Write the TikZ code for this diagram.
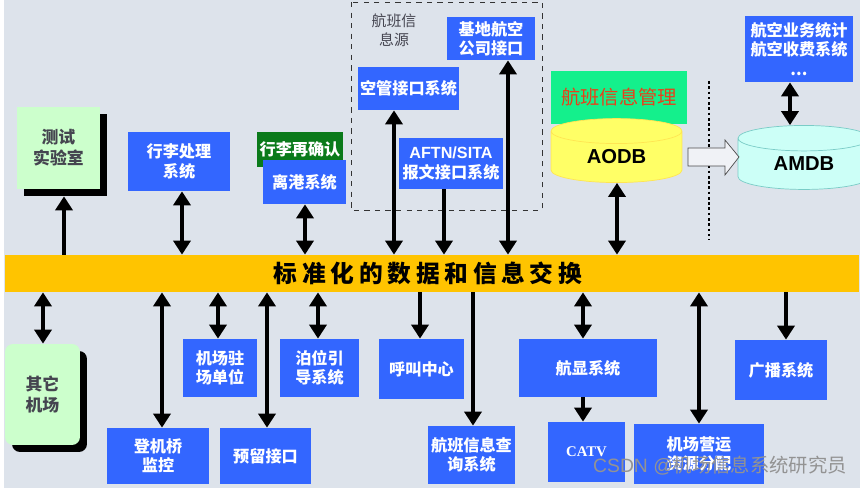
\documentclass[tikz,border=0pt]{standalone}
\usepackage{fontspec}
\setmainfont{Noto Sans CJK SC}
\newfontfamily\latinsans{Liberation Sans}
\newfontfamily\latinserif{Liberation Serif}
\usetikzlibrary{arrows.meta,shapes.geometric,shadows}
\definecolor{fondoGris}{HTML}{DDE3EB}
\definecolor{azulSis}{HTML}{3366FF}
\definecolor{bandaAmar}{HTML}{FFC400}
\definecolor{verdeOsc}{HTML}{0A7A1A}
\definecolor{verdeVivo}{HTML}{14F08C}
\definecolor{rojoTxt}{HTML}{E8401A}
\definecolor{amarAODB}{HTML}{FFFF66}
\definecolor{cianAMDB}{HTML}{CCFFF7}
\definecolor{verdeClaro}{HTML}{CCFFCC}
\definecolor{grisT}{HTML}{454550}

\begin{document}
\begin{tikzpicture}[x=0.02cm,y=-0.02cm,every node/.style={align=center},
    sysbox/.style={fill=azulSis,text=white,inner sep=0pt,
      font=\fontsize{9.2}{11}\selectfont\bfseries},
    sitebox/.style={fill=verdeClaro,text=grisT,inner sep=0pt,
      font=\fontsize{9.6}{12}\selectfont\bfseries,
      drop shadow={shadow xshift=0.14cm,shadow yshift=-0.14cm,fill=black,opacity=1}},
    dbbox/.style={cylinder,shape border rotate=90,aspect=0.42,inner sep=0pt,
      font=\latinsans\fontsize{11.5}{13}\selectfont\bfseries},
    dbl/.style={line width=2.2pt,{Triangle[length=0.28cm,width=0.34cm]}-{Triangle[length=0.28cm,width=0.34cm]}},
    sgl/.style={line width=2.2pt,-{Triangle[length=0.28cm,width=0.34cm]}}]
    \useasboundingbox (0,0) rectangle (860,492);
    % fondo
    \fill[fondoGris] (4,0) rectangle (860,488);
    % banda central
    \node[fill=bandaAmar,minimum width=17.1cm,minimum height=0.74cm,inner sep=0pt,
      font=\fontsize{13.5}{15}\selectfont\bfseries\addfontfeature{LetterSpace=20}]
      (band) at (432,273.5) {标准化的数据和信息交换\hspace*{0.16cm}};
    % parte superior
    \node[sitebox,minimum width=1.66cm,minimum height=1.64cm] (lab) at (58.5,148) {测试\\实验室};
    \node[sysbox,minimum width=2.04cm,minimum height=1.18cm] (bag) at (179,161.5) {行李处理\\系统};
    \node[sysbox,fill=verdeOsc,minimum width=1.72cm,minimum height=0.7cm] (recheck) at (300,149.5) {行李再确认};
    \node[sysbox,minimum width=1.66cm,minimum height=0.88cm] (depart) at (304.5,182) {离港系统};
    \draw[dashed,black!80] (351,2) rectangle (542,210);
    \node[text=grisT,font=\fontsize{8.5}{11}\selectfont] (src) at (394,30) {航班信\\息源};
    \node[sysbox,minimum width=1.76cm,minimum height=0.86cm] (airline) at (491,38.5) {基地航空\\公司接口};
    \node[sysbox,minimum width=2.02cm,minimum height=0.86cm] (atc) at (408.5,88.5) {空管接口系统};
    \node[sysbox,minimum width=2.08cm,minimum height=1.02cm] (aftn) at (451,163.5) {{\latinsans AFTN/SITA}\\报文接口系统};
    \node[fill=verdeVivo,text=rojoTxt,minimum width=2.72cm,minimum height=1.06cm,inner sep=0pt,
      font=\fontsize{11}{13}\selectfont] (fim) at (619,97.5) {航班信息管理};
    \node[dbbox,fill=amarAODB,draw=amarAODB!80!orange,minimum width=2.62cm,minimum height=1.28cm] (aodb) at (616.5,157) {AODB};
    \node[dbbox,fill=cianAMDB,draw=cianAMDB!60!teal,minimum width=2.64cm,minimum height=1.28cm] (amdb) at (804,164) {AMDB};
    \node[sysbox,minimum width=2.16cm,minimum height=1.32cm] (stats) at (799,49) {航空业务统计\\航空收费系统\\...};
    \draw[line width=0.6pt,dash pattern=on 1.5pt off 1.5pt] (709,81) -- (709,240);
    \draw[black!70,fill=white!55!fondoGris] (688,148) -- (725,148) -- (725,140) -- (739,157)
      -- (725,175) -- (725,166) -- (688,166) -- cycle;
    % parte inferior
    \node[sitebox,rounded corners=0.16cm,minimum width=1.5cm,minimum height=2.02cm] (other) at (42.5,394.5) {其它\\机场};
    \node[sysbox,minimum width=2.04cm,minimum height=1.12cm] (bridge) at (158,456) {登机桥\\监控};
    \node[sysbox,minimum width=1.48cm,minimum height=1.16cm] (resident) at (220,368) {机场驻\\场单位};
    \node[sysbox,minimum width=1.82cm,minimum height=1.12cm] (reserve) at (265.5,456) {预留接口};
    \node[sysbox,minimum width=1.58cm,minimum height=1.16cm] (berth) at (319.5,368) {泊位引\\导系统};
    \node[sysbox,minimum width=1.7cm,minimum height=1.2cm] (call) at (421.5,369) {呼叫中心};
    \node[sysbox,minimum width=1.74cm,minimum height=1.16cm] (query) at (471.5,455) {航班信息查\\询系统};
    \node[sysbox,minimum width=2.76cm,minimum height=1.16cm] (fids) at (588,368) {航显系统};
    \node[sysbox,minimum width=1.54cm,minimum height=1.2cm,font=\latinserif\fontsize{8.4}{10}\selectfont\bfseries] (catv) at (586.5,452) {CATV};
    \node[sysbox,minimum width=2.6cm,minimum height=1.2cm] (resource) at (699,454) {机场营运\\资源分配};
    \node[sysbox,minimum width=1.84cm,minimum height=1.2cm] (broadcast) at (781,370) {广播系统};
    % flechas
    \draw[sgl] (band.north -| 64,0) -- ([yshift=-0.14cm]lab.south -| 64,0);
    \draw[dbl] (bag.south -| 182,0) -- (band.north -| 182,0);
    \draw[dbl] (depart.south -| 305,0) -- (band.north -| 305,0);
    \draw[dbl] (atc.south -| 394,0) -- (band.north -| 394,0);
    \draw[sgl] (aftn.south -| 444,0) -- (band.north -| 444,0);
    \draw[dbl] (airline.south -| 508,0) -- (band.north -| 508,0);
    \draw[dbl] (aodb.south -| 617,0) -- (band.north -| 617,0);
    \draw[dbl] (stats.south -| 790,0) -- (amdb.north -| 790,0);
    \draw[dbl] (band.south -| 43,0) -- (other.north -| 43,0);
    \draw[dbl] (band.south -| 162,0) -- (bridge.north -| 162,0);
    \draw[dbl] (band.south -| 218,0) -- (resident.north -| 218,0);
    \draw[dbl] (band.south -| 267,0) -- (reserve.north -| 267,0);
    \draw[dbl] (band.south -| 318,0) -- (berth.north -| 318,0);
    \draw[sgl] (band.south -| 420,0) -- (call.north -| 420,0);
    \draw[sgl] (band.south -| 473,0) -- (query.north -| 473,0);
    \draw[dbl] (band.south -| 583,0) -- (fids.north -| 583,0);
    \draw[sgl] (fids.south -| 583,0) -- (catv.north -| 583,0);
    \draw[dbl] (band.south -| 699,0) -- (resource.north -| 699,0);
    \draw[sgl] (band.south -| 786,0) -- (broadcast.north -| 786,0);
    % marca
    \node[text=gray!85,font=\latinsans\fontsize{11}{13}\selectfont] (mark) at (720,466)
      {CSDN @{\rmfamily 机场信息系统研究员}};
\end{tikzpicture}
\end{document}
